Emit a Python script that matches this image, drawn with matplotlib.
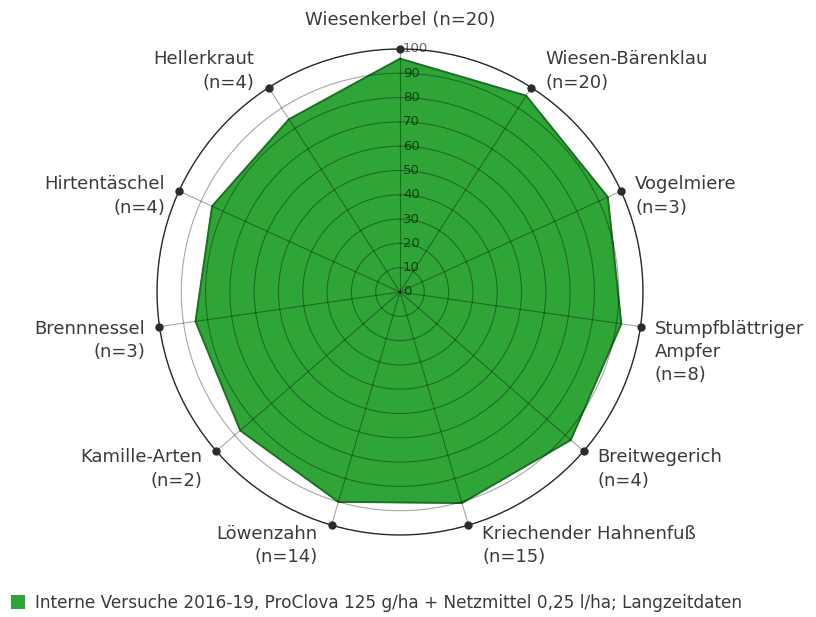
"""Radar chart: Wirkungsgrad ProClova gegen verschiedene Unkräuter (Langzeitdaten)."""

import numpy as np
import matplotlib.pyplot as plt
from matplotlib.patches import Patch

categories = ["Wiesenkerbel", "Wiesen-Bärenklau", "Vogelmiere",
              "Stumpfblättriger\nAmpfer", "Breitwegerich",
              "Kriechender Hahnenfuß", "Löwenzahn", "Kamille-Arten",
              "Brennnessel", "Hirtentäschel", "Hellerkraut"]
n_trials = [20, 20, 3, 8, 4, 15, 14, 2, 3, 4, 4]
values = [96, 96, 94, 92, 93, 90.5, 90, 87, 85, 85, 84.5]
r_ticks = list(range(0, 101, 10))
legend_label = ("Interne Versuche 2016-19, ProClova 125 g/ha + "
                "Netzmittel 0,25 l/ha; Langzeitdaten")

GREEN = "#2FA538"
EDGE = "#1B7222"
TEXT = "#3a3a3a"

fig = plt.figure(figsize=(8.16, 6.17), dpi=100)
ax = fig.add_axes([0.1924, 0.1329, 0.5956, 0.7877], polar=True)
ax.set_theta_zero_location("N")
ax.set_theta_direction(-1)

n = len(categories)
angles = np.linspace(0, 2 * np.pi, n, endpoint=False)
rmax = r_ticks[-1]

# filled area
ang_closed = np.append(angles, angles[0])
val_closed = np.append(values, values[0])
ax.fill(ang_closed, val_closed, color=GREEN, zorder=1)
ax.plot(ang_closed, val_closed, color=EDGE, lw=1.4, zorder=1.5)

# grid on top of the fill
ax.set_ylim(0, rmax)
ax.set_yticks(r_ticks)
ax.set_yticklabels([])
ax.set_xticks(angles)
ax.set_xticklabels([])
ax.set_axisbelow(False)
ax.grid(True, color="black", alpha=0.35, lw=0.8)
ax.spines["polar"].set_color("#333333")
ax.spines["polar"].set_linewidth(1.0)

# dots on the outer ring
ax.plot(angles, [rmax] * n, "o", color="#2b2b2b", ms=5, clip_on=False,
        zorder=5)

# radial tick labels along the top spoke
for v in r_ticks:
    ax.annotate(str(v), xy=(0, v), xytext=(3, 0), textcoords="offset pixels",
                ha="left", va="center", fontsize=9.5, color="black",
                alpha=0.6, zorder=4)

# category labels
for ang, cat, cnt in zip(angles, categories, n_trials):
    s, c = np.sin(ang), np.cos(ang)
    if abs(s) < 0.01:
        ha, dx = "center", 0
    elif s > 0:
        ha, dx = "left", 14
    else:
        ha, dx = "right", -14
    if c > 0.99:
        va, dy = "bottom", 20
        text = f"{cat} (n={cnt})"
    else:
        text = f"{cat}\n(n={cnt})"
        if c > 0.5:
            va, dy = "bottom", -4
        elif c > 0:
            va, dy = "center", -5
        else:
            va, dy = "top", 8 + 8 * c
    ax.annotate(text, xy=(ang, rmax), xytext=(dx, dy),
                textcoords="offset pixels", ha=ha, va=va,
                multialignment=ha if ha != "center" else "center",
                fontsize=13, color=TEXT, linespacing=1.38,
                annotation_clip=False)

fig.legend(handles=[Patch(facecolor=GREEN, edgecolor="none")],
           labels=[legend_label], loc="lower left",
           bbox_to_anchor=(0.007, 0.0), frameon=False, fontsize=12.2,
           handlelength=0.85, handleheight=0.85, handletextpad=0.55,
           borderaxespad=0.0, borderpad=0.3, labelcolor=TEXT)

fig.savefig("out.png", dpi=100)
